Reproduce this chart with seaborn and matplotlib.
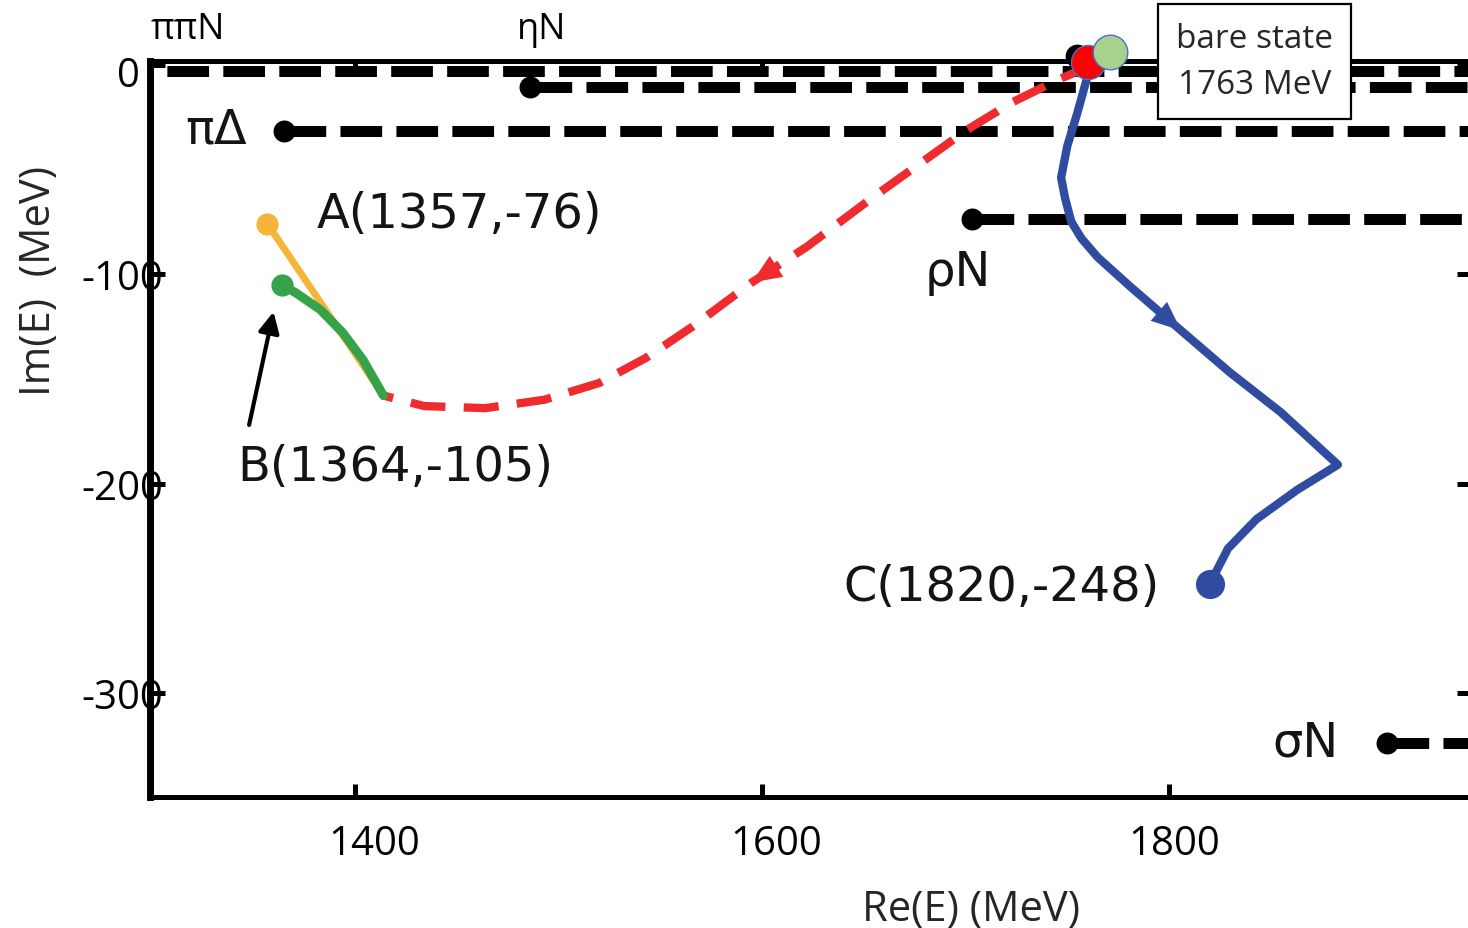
"""
plot.py - pole trajectories of the bare state in the complex energy plane
"""

import matplotlib
matplotlib.use("Agg")
import matplotlib.pyplot as plt
import matplotlib.transforms as mtransforms
import seaborn as sns

# ── Data (MeV) ────────────────────────────────────────────────────────────────
# red dashed trajectory: bare state -> B region
red_re = [1763, 1746, 1723, 1701, 1678, 1655, 1622, 1595, 1566, 1543, 1520,
          1493, 1464, 1434, 1414]
red_im = [0, -7, -18, -31, -47, -63, -87, -104, -125, -140, -152,
          -160, -164, -163, -158]

# blue trajectory: bare state -> C
blue_re = [1761, 1755, 1750, 1747, 1749, 1752, 1757, 1765, 1781, 1806, 1830,
           1855, 1883, 1863, 1843, 1829, 1820]
blue_im = [-2, -23, -39, -54, -64, -75, -83, -92, -106, -127, -147,
           -166, -191, -203, -217, -231, -248]

# orange branch -> A, green branch -> B
orange_re = [1357, 1414]
orange_im = [-76, -158]
green_re = [1364, 1371, 1383, 1394, 1404, 1414]
green_im = [-105, -109, -117, -128, -141, -158]

# bare state markers
bare_re = [1755, 1760, 1771]
bare_im = [4, 1, 6]

# thresholds
thr_names = ["ππN", "ηN", "πΔ", "ρN", "σN"]
thr_re = [1218, 1486, 1365, 1703, 1907]
thr_im = [-3.3, -10.5, -31.5, -73.5, -324]

# pole labels
pole_labels = ["A(1357,-76)", "B(1364,-105)", "C(1820,-248)"]
pole_lab_re = [1381, 1342, 1640]
pole_lab_im = [-77.6, -198.3, -255.6]

# threshold labels inside the plot (πΔ, ρN, σN) and above it (ππN, ηN)
in_lab = ["πΔ", "ρN", "σN"]
in_lab_re = [1316.5, 1680, 1851]
in_lab_im = [-37, -105.3, -330]
top_lab = ["ππN", "ηN"]
top_lab_re = [1299.5, 1479.5]
top_lab_im = [12.6, 12.6]

# pointer to B
b_arrow_re = [1348, 1360]
b_arrow_im = [-172, -118]

bare_text = "bare state\n1763 MeV"
bare_text_re, bare_text_im = 1842, 1.4

x_ticks = [1400, 1600, 1800]
x_tick_labels = ["1400", "1600", "1800"]
y_ticks = [0, -100, -200, -300]
y_tick_labels = ["0", "-100", "-200", "-300"]

XLIM = (1299.3, 1948.9)
YLIM = (-349.6, 1.7)

# ── Style ─────────────────────────────────────────────────────────────────────
RED = "#ee2b2e"
BLUE = "#2f4ca0"
ORANGE = "#f5b43a"
GREEN = "#36a24a"
TXT = "#141414"

sns.set_style("white")
plt.rcParams["font.family"] = ["Open Sans", "DejaVu Sans"]

fig = plt.figure(figsize=(14.68, 9.29), dpi=100)
ax = fig.add_axes([150 / 1468, 131 / 929, 1322 / 1468, 736 / 929])

# ── Threshold lines ───────────────────────────────────────────────────────────
ax.hlines(thr_im, thr_re, XLIM[1] + 50, colors="black", lw=7.9,
          linestyles=[(0, (3.8, 1.3))], zorder=2)
sns.scatterplot(x=thr_re, y=thr_im, color="black", s=250, linewidth=0,
                zorder=2.5, ax=ax)

# ── Trajectories ──────────────────────────────────────────────────────────────
solid = dict(solid_joinstyle="round", solid_capstyle="round")
sns.lineplot(x=orange_re, y=orange_im, sort=False, estimator=None,
             color=ORANGE, lw=5, zorder=3, ax=ax, **solid)
sns.lineplot(x=green_re, y=green_im, sort=False, estimator=None,
             color=GREEN, lw=6.5, zorder=3.1, ax=ax, **solid)
sns.lineplot(x=red_re, y=red_im, sort=False, estimator=None,
             color=RED, lw=6, linestyle=(0, (4.2, 2.2)), zorder=3, ax=ax)
sns.lineplot(x=blue_re, y=blue_im, sort=False, estimator=None,
             color=BLUE, lw=6, zorder=3, ax=ax, **solid)

# end points
sns.scatterplot(x=orange_re[:1], y=orange_im[:1], color=ORANGE, s=256,
                linewidth=0, zorder=3.2, ax=ax)
sns.scatterplot(x=green_re[:1], y=green_im[:1], color=GREEN, s=256,
                linewidth=0, zorder=3.2, ax=ax)
sns.scatterplot(x=blue_re[-1:], y=blue_im[-1:], color=BLUE, s=440,
                linewidth=0, zorder=3.2, ax=ax)

# direction arrows on the curves
head = "-|>,head_length=0.85,head_width=0.36"
ax.annotate("", xy=(red_re[7], red_im[7]), xytext=(red_re[6], red_im[6]),
            arrowprops=dict(arrowstyle=head, mutation_scale=25, color=RED,
                            lw=0, shrinkA=0, shrinkB=0), zorder=3.3)
ax.annotate("", xy=(blue_re[9], blue_im[9]), xytext=(blue_re[8], blue_im[8]),
            arrowprops=dict(arrowstyle=head, mutation_scale=25, color=BLUE,
                            lw=0, shrinkA=0, shrinkB=0), zorder=3.3)
ax.annotate("", xy=(b_arrow_re[1], b_arrow_im[1]),
            xytext=(b_arrow_re[0], b_arrow_im[0]),
            arrowprops=dict(arrowstyle="-|>,head_length=0.5,head_width=0.25",
                            mutation_scale=25, color="black", lw=3,
                            shrinkA=0, shrinkB=0), zorder=3.3)

# bare state markers (black original, red, green)
ax.scatter(bare_re[:1], bare_im[:1], s=260, color="black", zorder=5,
           clip_on=False)
ax.scatter(bare_re[1:2], bare_im[1:2], s=600, color="#ff0000",
           edgecolor="#4472c4", linewidth=1, zorder=5.1, clip_on=False)
ax.scatter(bare_re[2:], bare_im[2:], s=620, color="#a9d18e",
           edgecolor="#4472c4", linewidth=1, zorder=5.2, clip_on=False)

# ── Text ──────────────────────────────────────────────────────────────────────
for t, x, y in zip(pole_labels, pole_lab_re, pole_lab_im):
    ax.text(x, y, t, family="DejaVu Sans", fontsize=34.5, color=TXT,
            va="baseline", ha="left", zorder=4)
for t, x, y in zip(in_lab, in_lab_re, in_lab_im):
    ax.text(x, y, t, family="DejaVu Sans", fontsize=34.5, color=TXT,
            va="baseline", ha="left", zorder=4)
for t, x, y in zip(top_lab, top_lab_re, top_lab_im):
    ax.text(x, y, t, fontsize=26, color="black", va="baseline", ha="left",
            clip_on=False)

ax.text(bare_text_re, bare_text_im, bare_text, fontsize=24, ha="center",
        va="center", linespacing=1.5, zorder=6, clip_on=False,
        bbox=dict(boxstyle="square,pad=0.55", fc="white", ec="black", lw=1.6))

# ── Axes ──────────────────────────────────────────────────────────────────────
ax.set_xlim(*XLIM)
ax.set_ylim(*YLIM)
ax.set_xticks(x_ticks, x_tick_labels)
ax.set_yticks(y_ticks, y_tick_labels)
ax.tick_params(axis="x", direction="in", length=9.5, width=3.6, labelsize=29,
               pad=19, top=True, bottom=True, colors="black")
ax.tick_params(axis="y", direction="in", length=10.5, width=3.6, labelsize=29,
               pad=-9.4, left=True, right=True, colors="black")

for side in ["left", "right", "top", "bottom"]:
    ax.spines[side].set_visible(True)
    ax.spines[side].set_color("black")
    ax.spines[side].set_linewidth(3.6)
ax.spines["left"].set_linewidth(5)

# label nudges to follow the hand placed labels of the picture
for lab, dx in zip(ax.get_xticklabels(), [0.19, 0.14, 0.05]):
    lab.set_transform(lab.get_transform() +
                      mtransforms.ScaledTranslation(dx, 0, fig.dpi_scale_trans))
zero_lab = ax.get_yticklabels()[0]
zero_lab.set_transform(zero_lab.get_transform() +
                       mtransforms.ScaledTranslation(-0.23, -0.065,
                                                     fig.dpi_scale_trans))

ax.set_xlabel("Re(E) (MeV)", fontsize=30)
ax.set_ylabel("Im(E)  (MeV)", fontsize=30)
ax.xaxis.set_label_coords(0.621, -0.1236)
ax.yaxis.set_label_coords(-0.068, 0.7024)

fig.savefig("out.png", dpi=100)
